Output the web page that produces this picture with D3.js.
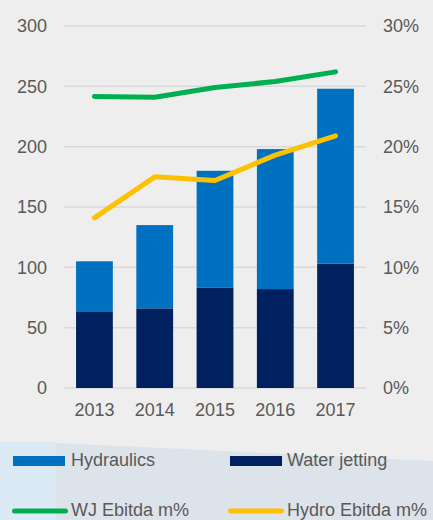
<!DOCTYPE html>
<html>
<head>
<meta charset="utf-8">
<script src="https://cdn.jsdelivr.net/npm/d3@7"></script>
<style>
  html, body { margin: 0; padding: 0; background: #eeeeee; }
  svg { display: block; font-family: "Liberation Sans", Arial, sans-serif; }
</style>
</head>
<body>
<div id="chart"></div>
<script>
'use strict';

const years = ["2013", "2014", "2015", "2016", "2017"];
const waterJetting = [63, 66, 83, 82, 103];
const hydraulics = [42, 69, 97, 116, 145];
const wjEbitda = [24.15, 24.1, 24.9, 25.4, 26.2];
const hydroEbitda = [14.1, 17.5, 17.2, 19.3, 20.9];
const leftTicks = [0, 50, 100, 150, 200, 250, 300];
const rightTicks = [0, 5, 10, 15, 20, 25, 30];

const width = 433, height = 520;
const svg = d3.select('#chart').append('svg')
  .attr('width', width)
  .attr('height', height);

// background decoration at the bottom
svg.append('rect').attr('width', width).attr('height', height).attr('fill', '#eeeeee');
svg.append('polygon')
  .attr('points', '0,442 56,442 56,520 0,520')
  .attr('fill', '#dceaf5');
svg.append('polygon')
  .attr('points', '56,443 433,461 433,520 56,520')
  .attr('fill', '#dde3ea');

// scales
const x = d3.scaleBand()
  .domain(years)
  .range([64, 366])
  .paddingInner(0.39)
  .paddingOuter(0.2);

const y = d3.scaleLinear().domain([0, 300]).range([388, 26]);
const y2 = d3.scaleLinear().domain([0, 30]).range([388, 26]);

// gridlines
svg.append('g')
  .selectAll('line')
  .data(leftTicks)
  .join('line')
    .attr('x1', 64)
    .attr('x2', 366)
    .attr('y1', d => y(d))
    .attr('y2', d => y(d))
    .attr('stroke', '#d9d9d9')
    .attr('stroke-width', 1.5);

// left axis
const leftAxis = svg.append('g')
  .attr('transform', 'translate(64,0)')
  .call(d3.axisLeft(y).tickValues(leftTicks).tickSize(0).tickPadding(17));
// right axis
const rightAxis = svg.append('g')
  .attr('transform', 'translate(366,0)')
  .call(d3.axisRight(y2).tickValues(rightTicks).tickSize(0).tickPadding(17)
    .tickFormat(d => d + '%'));
// bottom axis
const bottomAxis = svg.append('g')
  .attr('transform', 'translate(0,388)')
  .call(d3.axisBottom(x).tickSize(0).tickPadding(15));

[leftAxis, rightAxis, bottomAxis].forEach(g => {
  g.select('.domain').remove();
  g.selectAll('text')
    .style('font-size', '18px')
    .style('font-family', '"Liberation Sans", Arial, sans-serif')
    .attr('fill', '#595959');
});

// stacked bars
const stackData = years.map((yr, i) => ({ year: yr, wj: waterJetting[i], hyd: hydraulics[i] }));
const series = d3.stack().keys(['wj', 'hyd'])(stackData);
const barColors = { wj: '#002060', hyd: '#0070c0' };

svg.append('g')
  .selectAll('g')
  .data(series)
  .join('g')
    .attr('fill', d => barColors[d.key])
  .selectAll('rect')
  .data(d => d)
  .join('rect')
    .attr('x', d => x(d.data.year))
    .attr('width', x.bandwidth())
    .attr('y', d => y(d[1]))
    .attr('height', d => y(d[0]) - y(d[1]));

// lines
const line = d3.line()
  .x((d, i) => x(years[i]) + x.bandwidth() / 2)
  .y(d => y2(d));

svg.append('path')
  .datum(wjEbitda)
  .attr('fill', 'none')
  .attr('stroke', '#00b050')
  .attr('stroke-width', 5)
  .attr('stroke-linecap', 'round')
  .attr('stroke-linejoin', 'round')
  .attr('d', line);

svg.append('path')
  .datum(hydroEbitda)
  .attr('fill', 'none')
  .attr('stroke', '#ffc000')
  .attr('stroke-width', 5)
  .attr('stroke-linecap', 'round')
  .attr('stroke-linejoin', 'round')
  .attr('d', line);

// legend
const legendItems = [
  { name: 'Hydraulics', type: 'rect', color: '#0070c0', x: 13, y: 461, tx: 71 },
  { name: 'Water jetting', type: 'rect', color: '#002060', x: 230, y: 461, tx: 287 },
  { name: 'WJ Ebitda m%', type: 'line', color: '#00b050', x: 12, y: 511, tx: 71 },
  { name: 'Hydro Ebitda m%', type: 'line', color: '#ffc000', x: 228, y: 511, tx: 287 }
];

const legend = svg.append('g');
legendItems.forEach(item => {
  if (item.type === 'rect') {
    legend.append('rect')
      .attr('x', item.x)
      .attr('y', item.y - 5)
      .attr('width', 52)
      .attr('height', 10)
      .attr('fill', item.color);
  } else {
    legend.append('line')
      .attr('x1', item.x + 2.5)
      .attr('x2', item.x + 53.5)
      .attr('y1', item.y)
      .attr('y2', item.y)
      .attr('stroke', item.color)
      .attr('stroke-width', 5)
      .attr('stroke-linecap', 'round');
  }
  legend.append('text')
    .attr('x', item.tx)
    .attr('y', item.y + 4.5)
    .style('font-size', '18px')
    .attr('fill', '#595959')
    .text(item.name);
});
</script>
</body>
</html>
